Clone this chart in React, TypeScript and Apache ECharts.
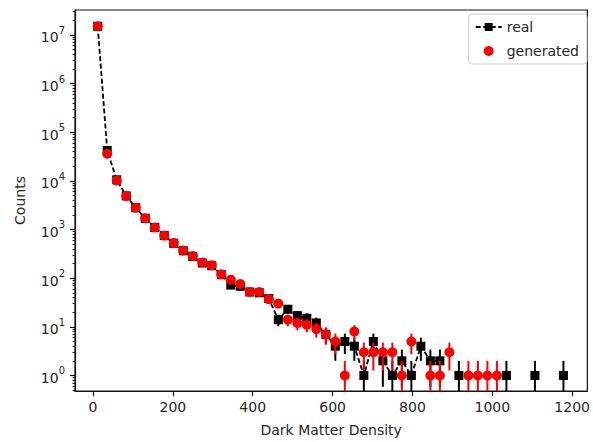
import React, { useEffect, useRef } from "react";
import * as echarts from "echarts";

// Histogram bin centres (Dark Matter Density)
const binCenters = [
  11.9, 35.7, 59.5, 83.3, 107.1, 130.9, 154.7, 178.5, 202.3, 226.1,
  249.9, 273.7, 297.5, 321.3, 345.1, 368.9, 392.7, 416.5, 440.3, 464.1,
  487.9, 511.7, 535.5, 559.3, 583.1, 606.9, 630.7, 654.5, 678.3, 702.1,
  725.9, 749.7, 773.5, 797.3, 821.1, 844.9, 868.7, 892.5, 916.3, 940.1,
  963.9, 987.7, 1011.5, 1035.3, 1059.1, 1082.9, 1106.7, 1130.5, 1154.3, 1178.1,
];

// Counts of the real sample (null = empty bin)
const realCounts: (number | null)[] = [
  15000000, 42000, 10500, 4900, 2800, 1700, 1100, 750, 520, 365,
  280, 205, 180, 118, 72, 68, 52, 50, 38, 14,
  23, 17, 15, 12, 7, 4, 5, 4, 1, 5,
  2, 1, 2, 1, 4, 2, 2, null, 1, null,
  null, null, null, 1, null, null, 1, null, null, 1,
];

// Counts of the generated sample (null = empty bin)
const genCounts: (number | null)[] = [
  15000000, 36000, 10200, 4900, 2800, 1700, 1100, 750, 530, 370,
  285, 210, 185, 120, 93, 76, 52, 52, 37, 30,
  14, 12, 11, 9, 7, 5, 1, 8, 3, 3,
  3, 3, 1, 5, null, 1, 1, 3, null, 1,
  1, 1, 1, null, null, null, null, null, null, null,
];

const xTicks = [0, 200, 400, 600, 800, 1000, 1200];
const yTicks = [1, 10, 100, 1000, 10000, 100000, 1000000, 10000000];

const X_MIN = -45;
const X_MAX = 1238;
const Y_MIN = 0.48;
const Y_MAX = 3.24e7;

const FONT = "DejaVu Sans";
const TXT = "#262626";
const FS = 14;

const yMinorTicks: number[] = [];
for (let e = -1; e <= 7; e++) {
  for (let m = 2; m <= 9; m++) {
    const v = m * Math.pow(10, e);
    if (v > Y_MIN && v < Y_MAX) yMinorTicks.push(v);
  }
}

function errData(counts: (number | null)[]) {
  const out: number[][] = [];
  counts.forEach((c, i) => {
    if (c == null) return;
    const s = Math.sqrt(c);
    out.push([binCenters[i], c - s, c + s]);
  });
  return out;
}

function errRenderer(color: string) {
  return (params: any, api: any) => {
    const x = api.value(0);
    const lo = Math.max(api.value(1), Y_MIN);
    const hi = api.value(2);
    const p1 = api.coord([x, hi]);
    const p2 = api.coord([x, lo]);
    return {
      type: "line",
      shape: { x1: p1[0], y1: p1[1], x2: p2[0], y2: p2[1] },
      style: { stroke: color, lineWidth: 2 },
    };
  };
}

export default function App() {
  const ref = useRef<HTMLDivElement>(null);
  useEffect(() => {
    if (!ref.current) return;
    const chart = echarts.init(ref.current, null, { renderer: "svg" });
    const realLine = binCenters.map((x, i) => [x, realCounts[i] == null ? "-" : realCounts[i]]);
    const genPts = binCenters
      .map((x, i) => (genCounts[i] == null ? null : [x, genCounts[i]]))
      .filter((d) => d != null);

    chart.setOption({
      animation: false,
      backgroundColor: "#fff",
      grid: {
        left: 75,
        top: 10,
        right: 3,
        bottom: 48,
        show: true,
        borderColor: "#111",
        borderWidth: 1.2,
        containLabel: false,
      },
      legend: {
        orient: "vertical",
        right: 6,
        top: 14,
        data: [{ name: "real" }, { name: "generated" }],
        itemWidth: 26,
        itemHeight: 10,
        itemGap: 10,
        padding: [6, 8, 6, 6],
        backgroundColor: "rgba(255,255,255,0.85)",
        borderColor: "#cccccc",
        borderWidth: 1,
        borderRadius: 3,
        textStyle: { fontFamily: FONT, fontSize: FS, color: TXT },
      },
      xAxis: {
        type: "value",
        min: X_MIN,
        max: X_MAX,
        name: "Dark Matter Density",
        nameLocation: "middle",
        nameGap: 32,
        nameTextStyle: { fontFamily: FONT, fontSize: FS, color: TXT },
        axisLine: { show: true, onZero: false, lineStyle: { color: "#111", width: 1.2 } },
        axisTick: { show: true, inside: false, length: 5, customValues: xTicks, lineStyle: { color: "#111", width: 1.2 } },
        axisLabel: {
          customValues: xTicks,
          margin: 9,
          fontFamily: FONT,
          fontSize: FS,
          color: TXT,
          formatter: (v: number) => String(Math.round(v)),
        },
        splitLine: { show: false },
      },
      yAxis: [
        {
          type: "log",
          logBase: 10,
          min: Y_MIN,
          max: Y_MAX,
          name: "Counts",
          nameLocation: "middle",
          nameGap: 48,
          nameTextStyle: { fontFamily: FONT, fontSize: FS, color: TXT },
          axisLine: { show: true, onZero: false, lineStyle: { color: "#111", width: 1.2 } },
          axisTick: { show: true, inside: false, length: 5, customValues: yTicks, lineStyle: { color: "#111", width: 1.2 } },
          axisLabel: {
            customValues: yTicks,
            margin: 10,
            formatter: (v: number) => `{b|10}{s|${Math.round(Math.log10(v))}}`,
            rich: {
              b: { fontFamily: FONT, fontSize: FS, color: TXT, lineHeight: 19, verticalAlign: "bottom" },
              s: { fontFamily: FONT, fontSize: 10, color: TXT, lineHeight: 10, verticalAlign: "top" },
            },
          },
          splitLine: { show: false },
          minorTick: { show: false },
        },
        {
          type: "log",
          logBase: 10,
          min: Y_MIN,
          max: Y_MAX,
          position: "left",
          axisLine: { show: false, onZero: false },
          axisTick: { show: true, inside: false, length: 2.5, customValues: yMinorTicks, lineStyle: { color: "#111", width: 0.9 } },
          axisLabel: { show: false },
          splitLine: { show: false },
        },
      ],
      series: [
        {
          name: "real-err",
          type: "custom",
          renderItem: errRenderer("#000"),
          data: errData(realCounts),
          encode: { x: 0, y: 2 },
          z: 2,
        },
        {
          name: "real",
          type: "line",
          data: realLine,
          connectNulls: false,
          symbol: "rect",
          symbolSize: 9,
          showAllSymbol: true,
          itemStyle: { color: "#000" },
          lineStyle: { color: "#000", width: 1.8, type: [5, 2.5] },
          z: 3,
        },
        {
          name: "gen-err",
          type: "custom",
          renderItem: errRenderer("#ff0000"),
          data: errData(genCounts),
          encode: { x: 0, y: 2 },
          z: 4,
        },
        {
          name: "generated",
          type: "scatter",
          data: genPts,
          symbol: "circle",
          symbolSize: 10,
          itemStyle: { color: "#ff0000", opacity: 1 },
          z: 5,
        },
      ],
    });
    return () => chart.dispose();
  }, []);
  return (
    <div
      ref={ref}
      style={{ position: "fixed", left: 0, top: 0, width: 593, height: 442, background: "#fff" }}
    />
  );
}
